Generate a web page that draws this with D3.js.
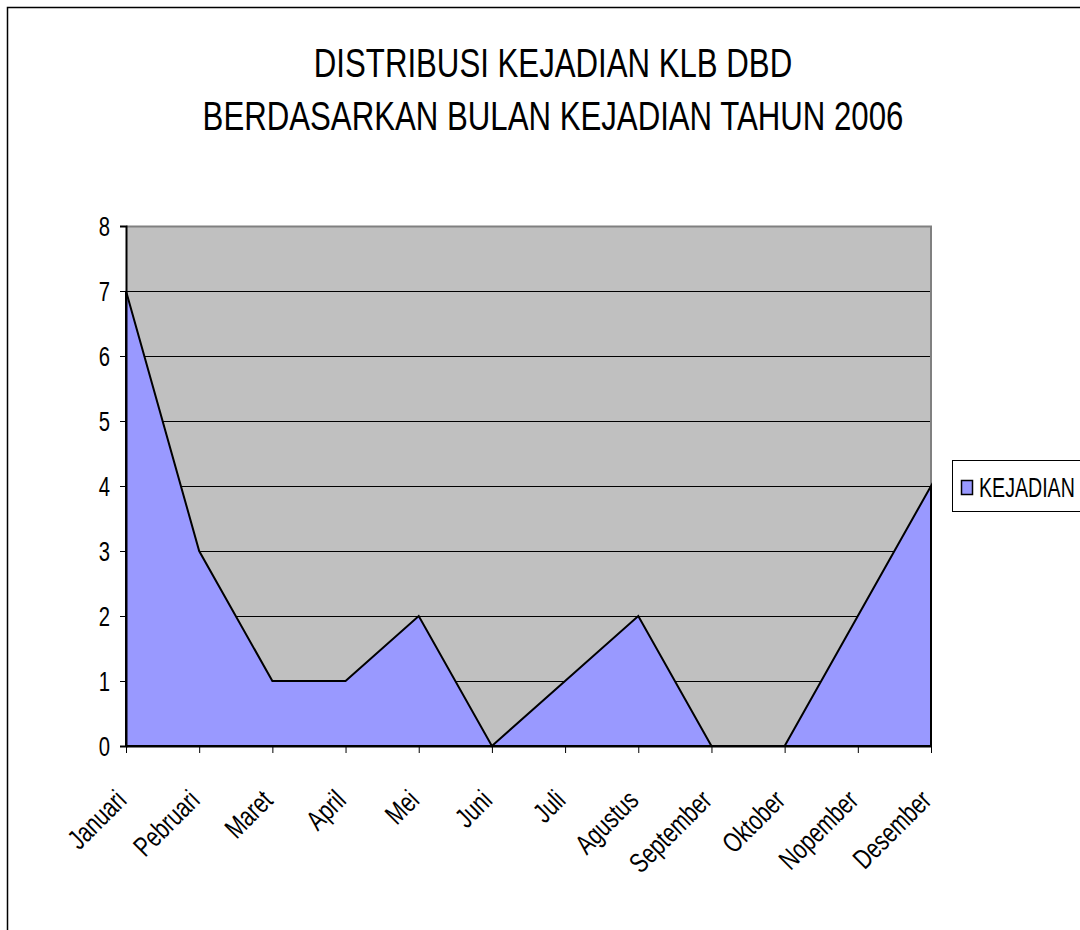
<!DOCTYPE html>
<html>
<head>
<meta charset="utf-8">
<script src="https://cdn.jsdelivr.net/npm/d3@7"></script>
<style>
  body { margin: 0; background: #fff; }
  svg { display: block; font-family: "Liberation Sans", Arial, sans-serif; }
</style>
</head>
<body>
<div id="chart"></div>
<script>
// chart data
const months = ["Januari", "Pebruari", "Maret", "April", "Mei", "Juni", "Juli",
                "Agustus", "September", "Oktober", "Nopember", "Desember"];
const kejadian = [7, 3, 1, 1, 2, 0, 1, 2, 0, 0, 2, 4];
const yTicks = [0, 1, 2, 3, 4, 5, 6, 7, 8];
const titleLines = ["DISTRIBUSI KEJADIAN KLB DBD", "BERDASARKAN BULAN KEJADIAN TAHUN 2006"];
const seriesName = "KEJADIAN";

const W = 1080, H = 930;
const plot = { left: 126, right: 931, top: 226, bottom: 746 };
const squeeze = 0.75; // narrow font look

const svg = d3.select("#chart").append("svg")
    .attr("width", W)
    .attr("height", H);

// outer chart frame (runs off the right and bottom edges)
svg.append("rect")
    .attr("x", 7.5).attr("y", 7.5)
    .attr("width", 1200).attr("height", 1200)
    .attr("fill", "#fff")
    .attr("stroke", "#000")
    .attr("stroke-width", 1.5);

const x = d3.scalePoint().domain(months).range([plot.left, plot.right]);
const y = d3.scaleLinear().domain([0, 8]).range([plot.bottom, plot.top]);

// --- title ---
const tl = svg.append("g").selectAll("text")
    .data(titleLines)
    .join("text")
    .attr("font-size", 40)
    .attr("text-anchor", "middle")
    .attr("fill", "#000")
    .text(d => d);
// common horizontal squeeze so line 2 spans ~701px
const ts = 701 / tl.nodes()[1].getComputedTextLength();
tl.attr("transform", (d, i) => `translate(553,${i === 0 ? 77 : 130}) scale(${ts},1)`);

// --- plot background ---
svg.append("rect")
    .attr("x", plot.left).attr("y", plot.top)
    .attr("width", plot.right - plot.left)
    .attr("height", plot.bottom - plot.top)
    .attr("fill", "#C0C0C0");

// gridlines
svg.append("g")
    .selectAll("line")
    .data(yTicks.filter(t => t > 0 && t < 8))
    .join("line")
    .attr("x1", plot.left).attr("x2", plot.right)
    .attr("y1", d => Math.round(y(d)) + 0.5)
    .attr("y2", d => Math.round(y(d)) + 0.5)
    .attr("stroke", "#000")
    .attr("stroke-width", 1);

// plot border top/right (gray)
svg.append("path")
    .attr("d", `M${plot.left},${plot.top + 0.5} H${plot.right} V${plot.bottom}`)
    .attr("fill", "none")
    .attr("stroke", "#808080")
    .attr("stroke-width", 2);

// --- area ---
const area = d3.area()
    .x((d, i) => x(months[i]))
    .y0(y(0))
    .y1(d => y(d));

svg.append("path")
    .datum(kejadian)
    .attr("d", area)
    .attr("fill", "#9999FF")
    .attr("stroke", "#000")
    .attr("stroke-width", 2)
    .attr("stroke-linejoin", "miter");

// --- axes ---
const yAxis = svg.append("g")
    .attr("transform", `translate(${plot.left},0)`)
    .call(d3.axisLeft(y).tickValues(yTicks).tickSize(6).tickPadding(10).tickFormat(d3.format("d")));
yAxis.select(".domain").attr("stroke", "#000").attr("stroke-width", 2);
yAxis.selectAll(".tick line").attr("stroke", "#000");
yAxis.selectAll(".tick text")
    .attr("font-size", 27)
    .attr("font-family", "Liberation Sans, Arial, sans-serif")
    .attr("fill", "#000")
    .attr("dy", "0.36em")
    .attr("transform", function () {
        const xx = +d3.select(this).attr("x");
        return `translate(${xx * (1 - squeeze)},0) scale(${squeeze},1)`;
    });

const xAxis = svg.append("g")
    .attr("transform", `translate(0,${plot.bottom})`)
    .call(d3.axisBottom(x).tickSize(7).tickSizeOuter(0).tickFormat(""));
xAxis.select(".domain").attr("stroke", "#000").attr("stroke-width", 2);
xAxis.selectAll(".tick line").attr("stroke", "#000");

// rotated month labels
svg.append("g")
    .selectAll("text")
    .data(months)
    .join("text")
    .attr("font-size", 28)
    .attr("text-anchor", "end")
    .attr("fill", "#000")
    .attr("transform", d => `translate(${x(d) + 2},${plot.bottom + 56}) rotate(-45) scale(${squeeze},1)`)
    .text(d => d);

// --- legend ---
const legend = svg.append("g");
legend.append("rect")
    .attr("x", 952.5).attr("y", 460.5)
    .attr("width", 200).attr("height", 51)
    .attr("fill", "#fff")
    .attr("stroke", "#000")
    .attr("stroke-width", 1);
legend.append("rect")
    .attr("x", 961.5).attr("y", 480.5)
    .attr("width", 11).attr("height", 14)
    .attr("fill", "#9999FF")
    .attr("stroke", "#000")
    .attr("stroke-width", 1.5);
legend.append("text")
    .attr("transform", `translate(979,497) scale(0.7,1)`)
    .attr("font-size", 28)
    .attr("fill", "#000")
    .text(seriesName);
</script>
</body>
</html>
